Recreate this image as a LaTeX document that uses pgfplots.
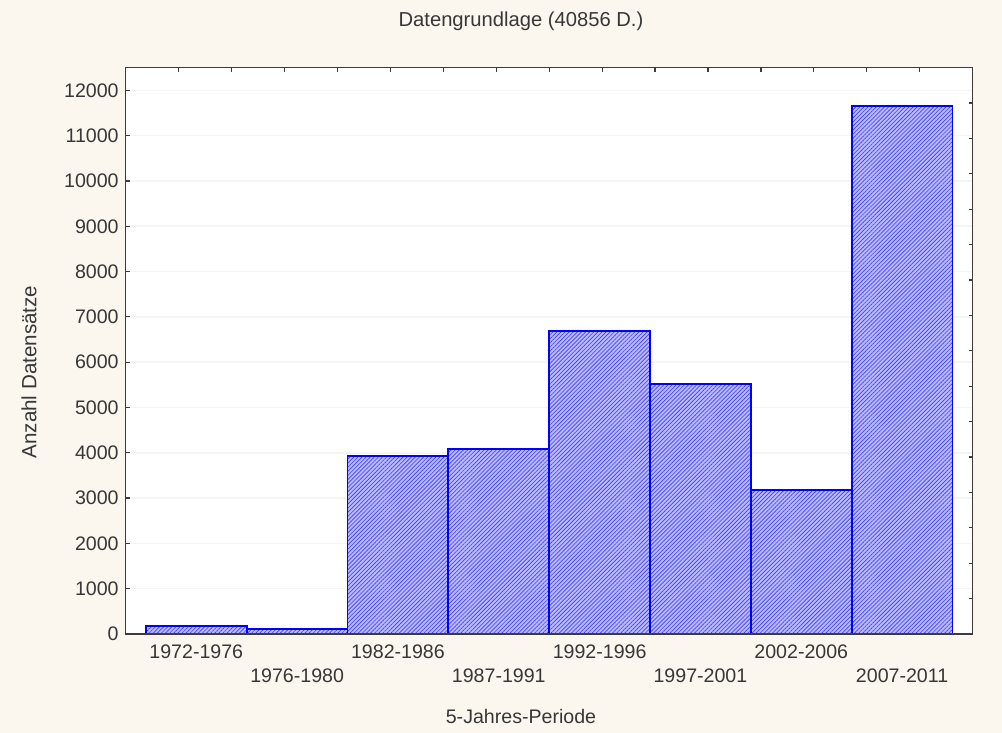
\documentclass[border=0pt]{standalone}
\usepackage{fontspec}
\setmainfont{Liberation Sans}
\usepackage{pgfplots}
\pgfplotsset{compat=1.18}
\usetikzlibrary{patterns.meta}
\definecolor{bgc}{RGB}{251,247,239}
\definecolor{txt}{RGB}{55,55,55}
\definecolor{barblue}{RGB}{0,0,255}
\definecolor{hatchc}{RGB}{60,60,255}
\definecolor{barfill}{RGB}{185,185,255}
\definecolor{axc}{RGB}{60,60,60}
\newcommand{\lblfont}{\fontsize{9.8pt}{11pt}\selectfont}
\begin{document}
\begin{tikzpicture}
\fill[bgc] (-62.85pt,-49.5pt) rectangle (438.15pt,317pt);
\useasboundingbox (-62.85pt,-49.5pt) rectangle (438.15pt,317pt);
\begin{axis}[
  scale only axis, width=423.5pt, height=283.15pt,
  at={(0pt,0pt)}, anchor=south west,
  xmin=0.3, xmax=8.7, ymin=0, ymax=12500,
  axis background/.style={fill=white},
  axis line style={draw=axc, line width=0.6pt},
  /pgf/number format/assume math mode=true,
  /pgf/number format/1000 sep={},
  scaled y ticks=false,
  xtick={1,3,5,7},
  xticklabels={1972-1976,1982-1986,1992-1996,2002-2006},
  extra x ticks={2,4,6,8},
  extra x tick labels={1976-1980,1987-1991,1997-2001,2007-2011},
  extra x tick style={major tick length=0pt, xticklabel style={yshift=-14pt}},
  xtick style={draw=none},
  major x tick style={draw=none},
  ytick={0,1000,...,12000},
  ytick pos=left,
  tick align=inside,
  major tick length=2pt,
  ytick style={draw=axc, line width=0.6pt},
  ymajorgrids, grid style={black!4, line width=0.8pt},
  every tick label/.append style={font=\lblfont, text=txt},
  title={Datengrundlage (40856 D.)},
  title style={at={(axis description cs:0.4667,1.0613)}, anchor=center, font=\fontsize{10.1pt}{12pt}\selectfont, text=txt},
  xlabel={5-Jahres-Periode},
  xlabel style={at={(axis description cs:0.4667,-0.1448)}, anchor=center, font=\lblfont, text=txt},
  ylabel={Anzahl Datensätze},
  ylabel style={at={(axis description cs:-0.1141,0.4627)}, anchor=center, font=\fontsize{10.3pt}{12pt}\selectfont, text=txt},
  ybar, bar width=1,
]
\addplot[draw=barblue, line width=0.95pt, fill=barfill,
  postaction={pattern color=hatchc, pattern={Lines[angle=45,distance=1.45pt,line width=0.32pt]}}]
  coordinates {(1,175) (2,115) (3,3936) (4,4084) (5,6695) (6,5519) (7,3179) (8,11656)};
\end{axis}
\begin{axis}[
  scale only axis, width=423.5pt, height=283.15pt,
  at={(0pt,0pt)}, anchor=south west,
  xmin=0, xmax=16, ymin=0, ymax=16,
  xtick={1,...,15}, ytick={1,...,15},
  xtick pos=right, ytick pos=right,
  xticklabels={}, yticklabels={},
  tick align=inside, major tick length=2pt,
  axis line style={draw=axc, line width=0.6pt},
  tick style={draw=axc, line width=0.6pt},
]
\end{axis}
\end{tikzpicture}
\end{document}
